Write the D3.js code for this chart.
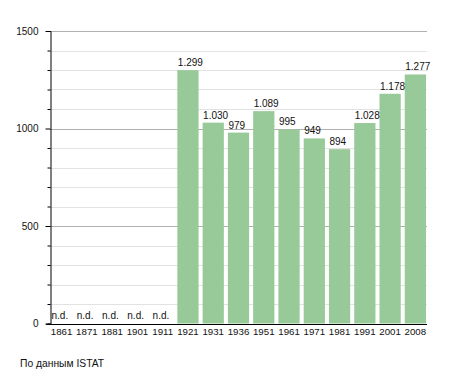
<!DOCTYPE html>
<html>
<head>
<meta charset="utf-8">
<script src="https://cdn.jsdelivr.net/npm/d3@7"></script>
<style>
  body { margin: 0; background: #fff; }
  text { font-family: "Liberation Sans", Arial, sans-serif; fill: #111; }
</style>
</head>
<body>
<svg id="chart" width="455" height="373"></svg>
<script>
// censimenti
const years = ["1861", "1871", "1881", "1901", "1911", "1921", "1931", "1936", "1951", "1961", "1971", "1981", "1991", "2001", "2008"];
const population = [null, null, null, null, null, 1299, 1030, 979, 1089, 995, 949, 894, 1028, 1178, 1277];
const yTicks = [0, 500, 1000, 1500];
const source = "По данным  ISTAT";

const svg = d3.select("#chart");
const mLeft = 50, mRight = 427, mTop = 31, mBottom = 323.5;

const x = d3.scaleBand().domain(years).range([mLeft, mRight]).paddingInner(0.16).paddingOuter(0.04);
const y = d3.scaleLinear().domain([0, 1500]).range([mBottom, mTop]);

const fmt = (v) => d3.format(",")(v).replace(/,/g, ".");

// griglia minore / maggiore
const minor = d3.range(100, 1501, 100).filter((d) => d % 500 !== 0);
svg.append("g").selectAll("line").data(minor).join("line")
  .attr("x1", mLeft).attr("x2", mRight)
  .attr("y1", (d) => Math.round(y(d)) + 0.5).attr("y2", (d) => Math.round(y(d)) + 0.5)
  .attr("stroke", "#e2e2e2");
svg.append("g").selectAll("line").data(yTicks.filter((d) => d > 0)).join("line")
  .attr("x1", mLeft).attr("x2", mRight)
  .attr("y1", (d) => Math.round(y(d)) + 0.5).attr("y2", (d) => Math.round(y(d)) + 0.5)
  .attr("stroke", "#b0b0b0");

// barre
const valid = years.map((d, i) => ({ year: d, v: population[i] }));
svg.append("g").selectAll("rect").data(valid.filter((d) => d.v != null)).join("rect")
  .attr("x", (d) => x(d.year))
  .attr("width", x.bandwidth())
  .attr("y", (d) => y(d.v))
  .attr("height", (d) => y(0) - y(d.v))
  .attr("fill", "#98c998");

// etichette valori
svg.append("g").selectAll("text").data(valid).join("text")
  .attr("x", (d) => x(d.year) + 0.5)
  .attr("y", (d) => (d.v == null ? y(0) - 5 : y(d.v) - 4))
  .attr("font-size", "10px")
  .text((d) => (d.v == null ? "n.d." : fmt(d.v)));

// asse y
const yAxis = d3.axisLeft(y).tickValues(d3.range(0, 1501, 100))
  .tickSize(3).tickFormat((d) => (d % 500 === 0 ? d : ""));
const gy = svg.append("g").attr("transform", `translate(${mLeft + 0.5},0)`).call(yAxis);
gy.select(".domain").attr("stroke", "#000");
gy.selectAll(".tick line").attr("stroke", "#000")
  .attr("x2", (d) => (d % 500 === 0 ? -5 : -3));
gy.selectAll(".tick text").attr("x", -12).attr("font-size", "10px")
  .attr("font-family", "Liberation Sans, Arial, sans-serif").attr("fill", "#111");

// asse x
const xAxis = d3.axisBottom(x).tickSize(0).tickPadding(3.5);
const gx = svg.append("g").attr("transform", `translate(0,${Math.round(mBottom) + 0.5})`).call(xAxis);
gx.select(".domain").attr("stroke", "#000").attr("d", `M${mLeft - 4},0H${mRight}`);
gx.selectAll(".tick text").attr("font-size", "9.7px")
  .attr("font-family", "Liberation Sans, Arial, sans-serif").attr("fill", "#111");

// fonte
svg.append("text").attr("x", 20).attr("y", 367).attr("font-size", "10.3px").text(source);
</script>
</body>
</html>
